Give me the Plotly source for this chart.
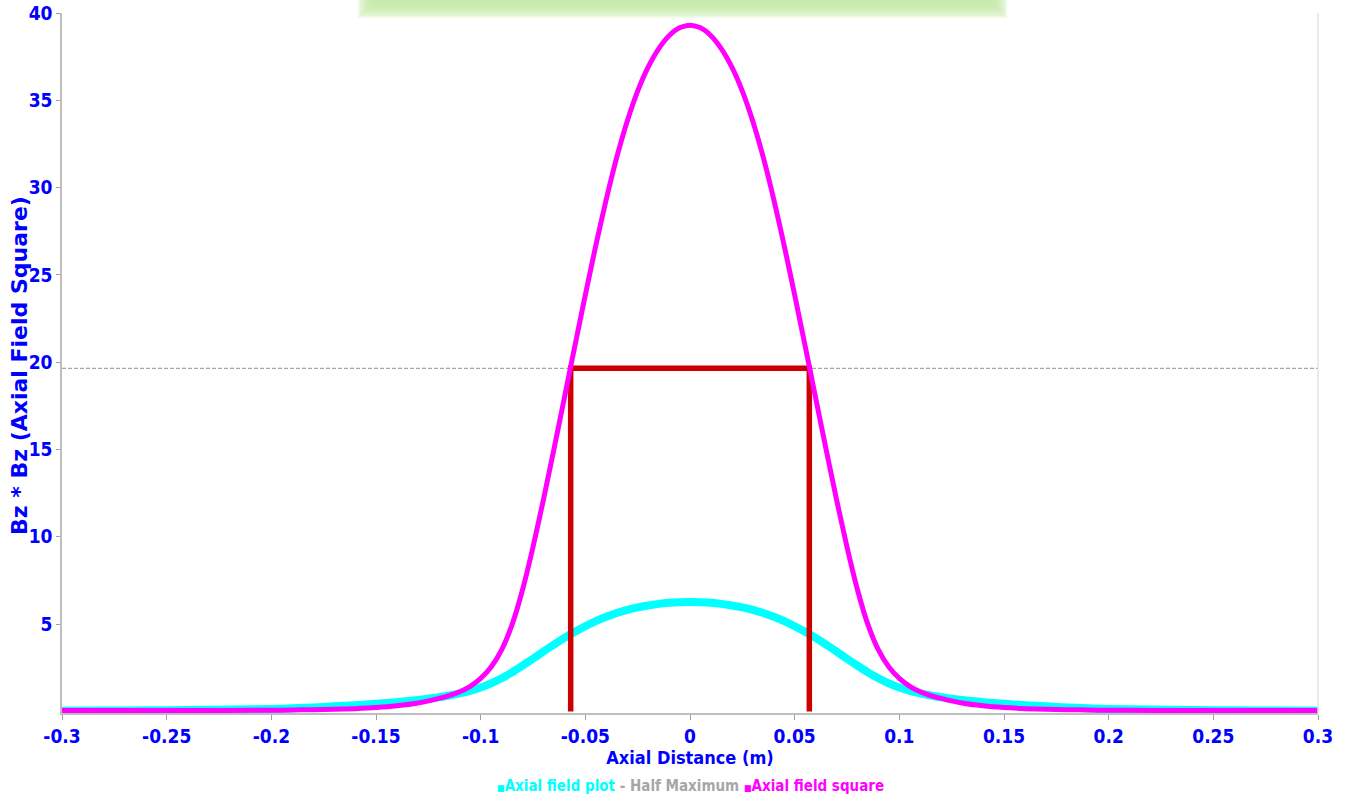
import plotly.graph_objects as go

# Axial positions (m)
axial_distance = [-0.30, -0.28, -0.26, -0.24, -0.22, -0.20, -0.19, -0.18, -0.17, -0.16,
                  -0.15, -0.14, -0.13, -0.12, -0.115, -0.11, -0.105, -0.10, -0.095, -0.09,
                  -0.085, -0.08, -0.075, -0.07, -0.065, -0.06, -0.055, -0.05, -0.045, -0.04,
                  -0.035, -0.03, -0.025, -0.02, -0.015, -0.01, -0.005,
                  0.0,
                  0.005, 0.01, 0.015, 0.02, 0.025, 0.03, 0.035, 0.04, 0.045, 0.05,
                  0.055, 0.06, 0.065, 0.07, 0.075, 0.08, 0.085, 0.09, 0.095, 0.10,
                  0.105, 0.11, 0.115, 0.12, 0.13, 0.14, 0.15, 0.16, 0.17, 0.18,
                  0.19, 0.20, 0.22, 0.24, 0.26, 0.28, 0.30]

# Axial field Bz
axial_field = [0.04, 0.05, 0.065, 0.08, 0.105, 0.145, 0.18, 0.23, 0.29, 0.36,
               0.44, 0.53, 0.65, 0.81, 0.91, 1.03, 1.18, 1.37, 1.61, 1.90,
               2.24, 2.62, 3.02, 3.43, 3.83, 4.21, 4.56, 4.88, 5.17, 5.42,
               5.64, 5.82, 5.96, 6.07, 6.16, 6.22, 6.255,
               6.27,
               6.255, 6.22, 6.16, 6.07, 5.96, 5.82, 5.64, 5.42, 5.17, 4.88,
               4.56, 4.21, 3.83, 3.43, 3.02, 2.62, 2.24, 1.90, 1.61, 1.37,
               1.18, 1.03, 0.91, 0.81, 0.65, 0.53, 0.44, 0.36, 0.29, 0.23,
               0.18, 0.145, 0.105, 0.08, 0.065, 0.05, 0.04]

# Axial field square Bz * Bz
axial_field_square = [0.05, 0.05, 0.05, 0.06, 0.06, 0.07, 0.08, 0.10, 0.12, 0.16,
                      0.22, 0.32, 0.48, 0.75, 0.91, 1.13, 1.44, 1.89, 2.54, 3.52,
                      4.97, 6.97, 9.42, 12.14, 15.02, 17.97, 20.93, 23.85, 26.68, 29.33,
                      31.73, 33.80, 35.53, 36.90, 37.95, 38.70, 39.15,
                      39.3,
                      39.15, 38.70, 37.95, 36.90, 35.53, 33.80, 31.73, 29.33, 26.68, 23.85,
                      20.93, 17.97, 15.02, 12.14, 9.42, 6.97, 4.97, 3.52, 2.54, 1.89,
                      1.44, 1.13, 0.91, 0.75, 0.48, 0.32, 0.22, 0.16, 0.12, 0.10,
                      0.08, 0.07, 0.06, 0.06, 0.05, 0.05, 0.05]

# Half maximum level and the width window at that level
half_maximum = 19.65
half_width_edges = [-0.057, 0.057]
x_extent = [-0.3, 0.3]

x_tick_values = [-0.3, -0.25, -0.2, -0.15, -0.1, -0.05, 0, 0.05, 0.1, 0.15, 0.2, 0.25, 0.3]
x_tick_labels = ["-0.3", "-0.25", "-0.2", "-0.15", "-0.1", "-0.05", "0",
                 "0.05", "0.1", "0.15", "0.2", "0.25", "0.3"]
y_tick_values = [5, 10, 15, 20, 25, 30, 35, 40]
y_tick_labels = ["5", "10", "15", "20", "25", "30", "35", "40"]

FONT = "DejaVu Sans Condensed, DejaVu Sans, sans-serif"
FONT_WIDE = "DejaVu Sans, sans-serif"
BLUE = "#0000FF"
CYAN = "#00FFFF"
MAGENTA = "#FF00FF"
GREY = "#A6A6A6"
RED = "#CC0000"

fig = go.Figure()

fig.add_trace(go.Scatter(
    x=axial_distance, y=axial_field, mode="lines", name="Axial field plot",
    line=dict(color=CYAN, width=8, shape="spline", smoothing=0.6),
    showlegend=False))

fig.add_trace(go.Scatter(
    x=x_extent, y=[half_maximum, half_maximum], mode="lines", name="Half Maximum",
    line=dict(color=GREY, width=1.2, dash="4px,2px"), showlegend=False))

# FWHM window
fig.add_trace(go.Scatter(
    x=[half_width_edges[0], half_width_edges[0], half_width_edges[1], half_width_edges[1]],
    y=[0, half_maximum, half_maximum, 0], mode="lines", name="FWHM",
    line=dict(color=RED, width=5.5), showlegend=False))

fig.add_trace(go.Scatter(
    x=axial_distance, y=axial_field_square, mode="lines", name="Axial field square",
    line=dict(color=MAGENTA, width=5, shape="spline", smoothing=0.6),
    showlegend=False))

# Soft green header band above the plot (pixel geometry converted to paper units)
PLOT_L, PLOT_W, PLOT_T, PLOT_H = 62, 1256, 13, 700
shapes = []
layers = 8
for i in range(layers):
    grow = 2.0 * i
    x0_px, x1_px = 372 - grow, 993 + grow
    y0_px, y1_px = -12, 4 + grow
    shapes.append(dict(
        type="rect", xref="paper", yref="paper", layer="below",
        x0=(x0_px - PLOT_L) / PLOT_W, x1=(x1_px - PLOT_L) / PLOT_W,
        y0=1 - (y1_px - PLOT_T) / PLOT_H, y1=1 - (y0_px - PLOT_T) / PLOT_H,
        fillcolor="#C5EBA8", opacity=0.28, line=dict(width=0)))

# Right frame edge
shapes.append(dict(type="line", xref="paper", yref="paper", x0=1, x1=1, y0=0, y1=1,
                   line=dict(color="#E3E3E3", width=1.5)))

legend_text = (
    f"<span style='color:{CYAN}'><span style='font-size:9px'>■</span>Axial field plot</span> "
    f"<span style='color:{GREY}'>- Half Maximum</span> "
    f"<span style='color:{MAGENTA}'><span style='font-size:9px'>■</span>Axial field square</span>"
)

annotations = [
    dict(text=legend_text, xref="paper", yref="paper", x=0.5, y=-0.104,
         xanchor="center", yanchor="middle", showarrow=False,
         font=dict(family=FONT, size=15, weight="bold")),
    dict(text="Bz * Bz (Axial Field Square)", xref="paper", yref="paper",
         x=(19 - PLOT_L) / PLOT_W, y=1 - (366 - PLOT_T) / PLOT_H,
         xanchor="center", yanchor="middle", textangle=-90, showarrow=False,
         font=dict(family=FONT_WIDE, size=22, color=BLUE, weight="bold")),
]

fig.update_layout(
    width=1362, height=797,
    margin=dict(l=62, r=44, t=13, b=84, autoexpand=False),
    paper_bgcolor="white", plot_bgcolor="white",
    shapes=shapes,
    annotations=annotations,
    xaxis=dict(
        range=x_extent, tickvals=x_tick_values, ticktext=x_tick_labels,
        automargin=False,
        showgrid=False, zeroline=False, showline=True, linecolor="#BDBDBD", linewidth=1.5,
        ticks="outside", ticklen=5, tickcolor="#9E9E9E", tickwidth=1,
        tickfont=dict(family=FONT, size=19, color=BLUE, weight="bold"),
        title=dict(text="Axial Distance (m)", standoff=4,
                   font=dict(family=FONT, size=18, color=BLUE, weight="bold"))),
    yaxis=dict(
        range=[-0.09, 40], tickvals=y_tick_values, ticktext=y_tick_labels,
        automargin=False,
        showgrid=False, zeroline=False, showline=True, linecolor="#BDBDBD", linewidth=1.5,
        ticks="outside", ticklen=4, tickcolor="#9E9E9E", tickwidth=1,
        tickfont=dict(family=FONT, size=19, color=BLUE, weight="bold")),
)

fig.write_html("out.html")
